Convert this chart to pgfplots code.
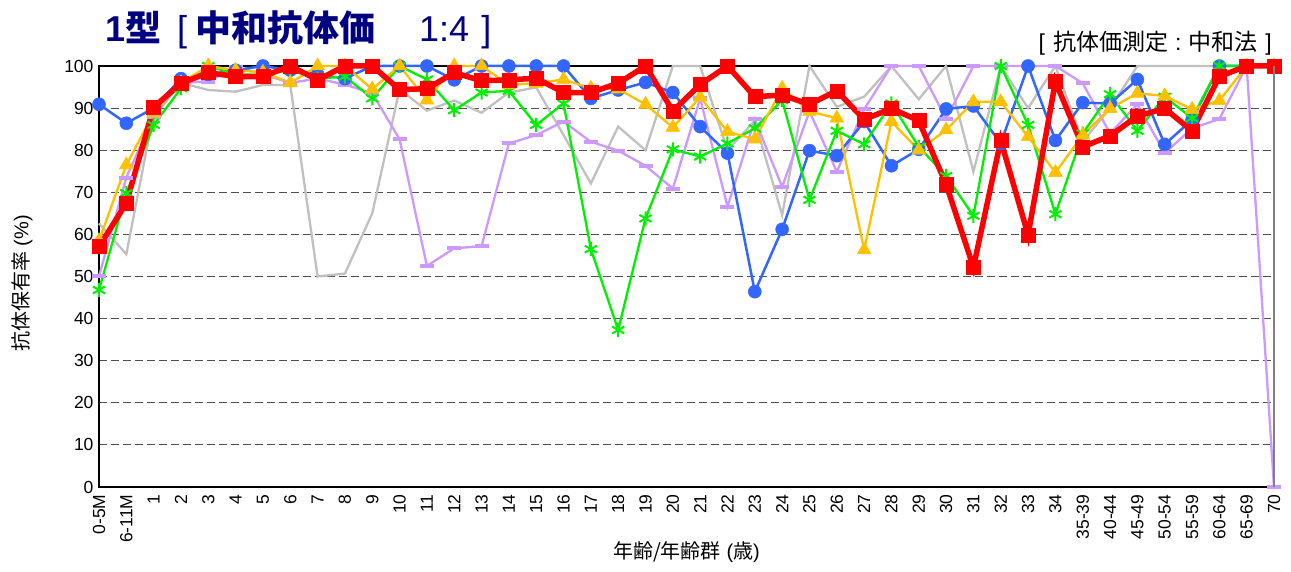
\documentclass[border=0pt]{standalone}
\usepackage{pgfplots}
\usepackage{pgfplotstable}
\pgfplotsset{compat=1.18}
\usepackage{fontspec}
\setmainfont{Liberation Sans}
\newfontfamily\cjk{Noto Sans CJK JP}
\definecolor{cBlue}{RGB}{51,102,255}
\definecolor{cYellow}{RGB}{255,192,0}
\definecolor{cGreen}{RGB}{0,240,0}
\definecolor{cPurple}{RGB}{204,153,255}
\definecolor{cGrey}{RGB}{192,192,192}
\definecolor{cRed}{RGB}{255,0,0}
\definecolor{cNavy}{RGB}{0,0,128}
\definecolor{cGridc}{RGB}{80,80,80}

% x = category index (0 = 0-5M ... 43 = 70)
\pgfplotstableread{
x  grey  purple blue  green yellow red
0  62.6  50.0   90.9  46.8  58.5   57.1
1  55.3  73.5   86.4  69.8  76.5   67.4
2  88.8  88.0   90.0  86.0  88.8   90.2
3  96.0  96.0   97.0  94.7  96.0   95.9
4  94.3  96.3   98.0  100   100    98.4
5  93.9  99.8   99.0  98.0  99.0   97.5
6  95.5  98.0   100   97.9  98.5   97.5
7  95.5  96.0   99.0  99.0  96.0   100
8  50.0  97.0   98.0  97.0  100    96.7
9  50.7  95.6   97.0  97.5  100    100
10 65.0  93.5   100   92.3  94.5   100
11 94.5  82.6   100   100   100    94.4
12 89.4  52.5   100   96.8  91.9   94.6
13 91.8  56.7   96.7  89.5  100    98.4
14 88.9  57.2   100   93.7  100    96.5
15 93.7  81.6   100   94.1  95.5   96.7
16 94.9  83.6   100   86.0  95.9   97.1
17 83.6  86.8   100   91.1  96.8   93.7
18 72.1  82.0   92.3  56.5  94.7   93.7
19 85.6  79.9   94.3  37.3  94.5   95.9
20 80.0  76.3   96.1  63.8  90.9   100
21 100   70.9   93.7  80.2  85.4   89.3
22 100   92.3   85.6  78.5  92.6   95.6
23 80.0  66.6   79.3  81.6  84.4   100
24 87.0  87.3   46.4  85.2  82.6   92.7
25 64.6  71.3   61.2  91.9  94.7   93.1
26 100   89.2   79.9  68.2  89.2   90.9
27 90.3  74.9   78.7  84.6  87.6   94.1
28 92.7  89.7   86.8  81.4  56.3   87.3
29 100   100    76.3  91.1  86.8   89.9
30 92.1  100    80.2  80.8  80.0   87.0
31 100   87.4   89.8  73.9  84.8   71.9
32 74.9  100    90.5  64.4  91.5   52.2
33 100   100    81.6  100   91.5   82.3
34 90.0  100    100   86.0  83.2   59.9
35 100   100    82.3  64.8  74.7   96.3
36 82.0  95.9   91.3  84.0  83.6   80.8
37 90.0  84.0   91.1  93.3  89.9   83.4
38 100   90.9   96.8  84.6  93.5   88.1
39 100   79.3   81.4  92.7  92.9   89.9
40 100   85.2   87.2  87.6  89.7   84.6
41 100   87.4   100   100   91.8   97.5
42 100   100    100   100   100    100
43 100   0      100   100   100    100
}\datatable

\begin{document}
\begin{tikzpicture}
\begin{axis}[
  x=27.3256pt, y=4.21pt,
  xmin=0, xmax=43, ymin=0, ymax=100,
  clip=false,
  axis line style={black, line width=1.3pt},
  major tick length=0pt,
  ytick={0,10,...,100},
  xtick={0,...,43},
  xticklabels={0-5M,6-11M,1,2,3,4,5,6,7,8,9,10,11,12,13,14,15,16,17,18,19,20,21,22,23,24,25,26,27,28,29,30,31,32,33,34,35-39,40-44,45-49,50-54,55-59,60-64,65-69,70},
  /pgf/number format/assume math mode=true,
  tick label style={font=\fontsize{17.5}{17.5}\selectfont},
  yticklabel style={xshift=-2pt},
  xticklabel style={rotate=90, anchor=east, xshift=-4pt},
  ymajorgrids,
  grid style={cGridc, line width=1.1pt, dash pattern=on 8pt off 4pt},
]
\addplot[cGrey, line width=2.3pt, mark=none] table[x=x, y=grey] {\datatable};
\addplot[cPurple, line width=2.3pt, mark=-, mark size=7pt, mark options={solid, line width=4pt}] table[x=x, y=purple] {\datatable};
\addplot[cBlue, line width=2.5pt, mark=*, mark size=6.5pt, mark options={solid, fill=cBlue, draw=cBlue, line width=0.5pt}] table[x=x, y=blue] {\datatable};
\addplot[cGreen, line width=2.3pt, mark=asterisk, mark size=7pt, mark options={solid, line width=2pt}] table[x=x, y=green] {\datatable};
\addplot[cYellow, line width=2.3pt, mark=triangle*, mark size=8pt, mark options={solid, fill=cYellow, draw=cYellow, line width=0.5pt}] table[x=x, y=yellow] {\datatable};
\addplot[cRed, line width=5.5pt, mark=square*, mark size=7pt, mark options={solid, fill=cRed, draw=cRed, line width=0.5pt}] table[x=x, y=red] {\datatable};
\end{axis}
\draw[gray, line width=1.3pt] (current axis.south east) -- (current axis.north east);
% title
\node[anchor=base west, inner sep=0pt, text=cNavy, font=\fontsize{36}{36}\selectfont]
  at ([xshift=6pt, yshift=24pt]current axis.north west)
  {\bfseries 1{\cjk\bfseries 型}\hspace{16pt}\mdseries[\hspace{8pt}{\cjk\bfseries 中和抗体価}\hspace{44pt}1:4\hspace{12pt}]};
\node[anchor=base east, inner sep=0pt, font=\fontsize{23}{23}\selectfont]
  at ([xshift=-2pt, yshift=15pt]current axis.north east)
  {[\hspace{8pt}{\cjk 抗体価測定}\hspace{7pt}:\hspace{7pt}{\cjk 中和法}\hspace{8pt}]};
% axis labels
\node[anchor=base, inner sep=0pt, font=\fontsize{20}{20}\selectfont]
  at ([yshift=-72pt]current axis.south)
  {{\cjk 年齢/年齢群} ({\cjk 歳})};
\node[rotate=90, anchor=center, inner sep=0pt, font=\fontsize{20}{20}\selectfont]
  at ([xshift=-77pt, yshift=-7pt]current axis.west)
  {{\cjk 抗体保有率} (\%)};
\pgfresetboundingbox
\path ([xshift=-99pt, yshift=-85pt]current axis.south west) rectangle ([xshift=17pt, yshift=66pt]current axis.north east);
\end{tikzpicture}
\end{document}
